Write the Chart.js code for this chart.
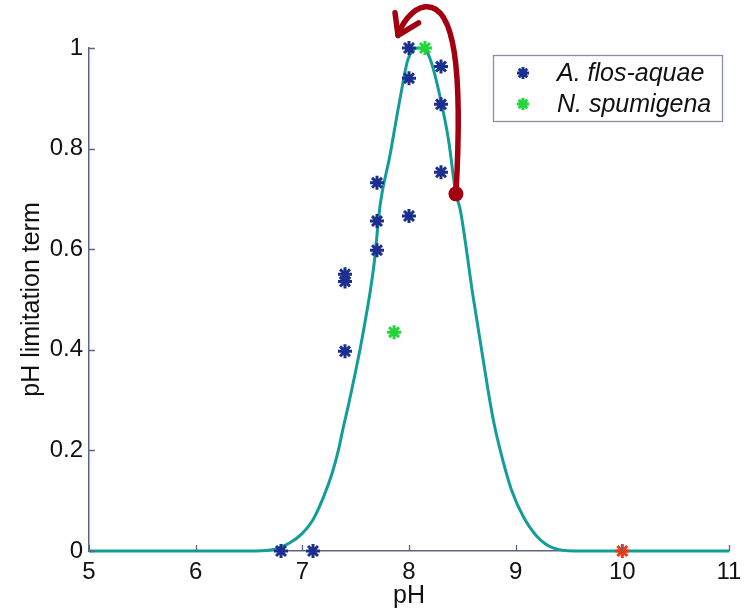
<!DOCTYPE html>
<html>
<head>
<meta charset="utf-8">
<script src="https://cdn.jsdelivr.net/npm/chart.js@4/dist/chart.umd.min.js"></script>
<style>
  html, body { margin: 0; padding: 0; background: #ffffff; }
  #wrap { width: 755px; height: 612px; position: relative; }
</style>
</head>
<body>
<div id="wrap"><canvas id="c" width="755" height="612"></canvas></div>
<script>
// ---- data ----
const curveX = [5, 6.0, 6.5, 6.7, 6.88, 7.0, 7.1, 7.2, 7.28, 7.34, 7.38, 7.43, 7.57, 7.67, 7.73, 7.82, 7.92, 7.99, 8.08, 8.15, 8.21, 8.29, 8.37, 8.44, 8.48, 8.6, 8.74, 8.79, 8.87, 8.96, 9.07, 9.2, 9.35, 9.55, 10, 11];
const curveY = [0, 0, 0, 0.002, 0.016, 0.035, 0.062, 0.108, 0.155, 0.202, 0.242, 0.288, 0.434, 0.566, 0.689, 0.785, 0.904, 0.977, 1.0, 0.997, 0.971, 0.904, 0.818, 0.71, 0.679, 0.507, 0.321, 0.261, 0.188, 0.122, 0.069, 0.029, 0.006, 0, 0, 0];

const aflosX = [8.0, 8.0, 8.3, 8.3, 8.3, 7.7, 7.7, 7.7, 8.0, 7.4, 7.4, 7.4, 6.8, 7.1];
const aflosY = [1.0, 0.94, 0.963, 0.888, 0.753, 0.732, 0.656, 0.598, 0.666, 0.550, 0.536, 0.397, 0, 0];

const nspumX = [8.15, 7.86];
const nspumY = [1.0, 0.435];

const redX = [10];
const redY = [0];

const xTicks = [5, 6, 7, 8, 9, 10, 11];
const yTicks = [0, 0.2, 0.4, 0.6, 0.8, 1];

const seriesNames = ['A. flos-aquae', 'N. spumigena'];

// annotation arrow (data units): start dot, two cubic segments, head arms
const arrowStart = [8.44, 0.71];
const arrowSeg1 = [[8.505, 0.957], [8.431, 1.088], [8.15, 1.082]];
const arrowSeg2 = [[8.028, 1.078], [7.934, 1.049], [7.897, 1.025]];
const arrowHead = [[7.869, 1.070], [8.090, 1.050]];

// ---- build ----
const zip = (xs, ys) => xs.map((x, i) => ({ x: x, y: ys[i] }));

const AXIS = '#5e6486';
const FONT = "'Liberation Sans', Arial, Helvetica, sans-serif";

const innerTicks = {
  id: 'innerTicks',
  afterDraw(chart) {
    const { ctx, scales: { x, y } } = chart;
    ctx.save();
    ctx.strokeStyle = AXIS;
    ctx.lineWidth = 1.3;
    ctx.beginPath();
    xTicks.forEach(v => {
      const px = Math.round(x.getPixelForValue(v)) + 0.5;
      ctx.moveTo(px, y.bottom);
      ctx.lineTo(px, y.bottom - 6);
    });
    yTicks.forEach(v => {
      const py = Math.round(y.getPixelForValue(v)) + 0.5;
      ctx.moveTo(x.left, py);
      ctx.lineTo(x.left + 6, py);
    });
    ctx.stroke();
    ctx.restore();
  }
};

const arrowPlugin = {
  id: 'arrow',
  afterDatasetsDraw(chart) {
    const { ctx, scales: { x, y } } = chart;
    const P = p => [x.getPixelForValue(p[0]), y.getPixelForValue(p[1])];
    const s = P(arrowStart);
    const a = arrowSeg1.map(P), b = arrowSeg2.map(P), h = arrowHead.map(P);
    ctx.save();
    ctx.strokeStyle = '#a3000f';
    ctx.fillStyle = '#a3000f';
    ctx.lineWidth = 5.5;
    ctx.lineCap = 'round';
    ctx.lineJoin = 'round';
    ctx.beginPath();
    ctx.moveTo(s[0], s[1]);
    ctx.bezierCurveTo(a[0][0], a[0][1], a[1][0], a[1][1], a[2][0], a[2][1]);
    ctx.bezierCurveTo(b[0][0], b[0][1], b[1][0], b[1][1], b[2][0], b[2][1]);
    ctx.stroke();
    ctx.beginPath();
    ctx.moveTo(h[0][0], h[0][1]);
    ctx.lineTo(b[2][0], b[2][1]);
    ctx.lineTo(h[1][0], h[1][1]);
    ctx.stroke();
    ctx.beginPath();
    ctx.arc(s[0], s[1], 7.5, 0, Math.PI * 2);
    ctx.fill();
    ctx.restore();
  }
};

const drawStar = (ctx, cx, cy, r, color, lw) => {
  ctx.strokeStyle = color;
  ctx.lineWidth = lw;
  ctx.lineCap = 'butt';
  ctx.beginPath();
  for (let k = 0; k < 4; k++) {
    const ang = k * Math.PI / 4;
    ctx.moveTo(cx - r * Math.cos(ang), cy - r * Math.sin(ang));
    ctx.lineTo(cx + r * Math.cos(ang), cy + r * Math.sin(ang));
  }
  ctx.stroke();
};

const boxLegend = {
  id: 'boxLegend',
  afterDraw(chart) {
    const { ctx } = chart;
    const items = chart.data.datasets.filter(d => d.inLegend);
    const left = 493, top = 55, w = 229, rowH = 31;
    const h = 66;
    ctx.save();
    ctx.fillStyle = '#ffffff';
    ctx.fillRect(left, top, w, h);
    ctx.strokeStyle = '#8a8ea6';
    ctx.lineWidth = 1.3;
    ctx.strokeRect(left + 0.5, top + 0.5, w, h);
    items.forEach((d, i) => {
      const cy = top + 18 + i * rowH;
      drawStar(ctx, left + 30, cy, 6, d.borderColor, 3);
      ctx.fillStyle = '#111111';
      ctx.font = 'italic 25px ' + FONT;
      ctx.textBaseline = 'middle';
      ctx.textAlign = 'left';
      ctx.fillText(d.label, left + 64, cy + 1);
    });
    ctx.restore();
  }
};

const whiteBg = {
  id: 'whiteBg',
  beforeDraw(chart) {
    const { ctx, width, height } = chart;
    ctx.save();
    ctx.fillStyle = '#ffffff';
    ctx.fillRect(0, 0, width, height);
    ctx.restore();
  }
};

const starDs = (label, xs, ys, color, inLegend) => ({
  type: 'scatter',
  label: label,
  data: zip(xs, ys),
  showLine: false,
  pointStyle: 'star',
  pointRadius: 7,
  pointHoverRadius: 7,
  pointBorderWidth: 3,
  borderColor: color,
  backgroundColor: color,
  pointBorderColor: color,
  clip: false,
  inLegend: inLegend,
  order: 1
});

new Chart(document.getElementById('c'), {
  type: 'scatter',
  data: {
    datasets: [
      starDs(seriesNames[0], aflosX, aflosY, '#1b2f8f', true),
      starDs(seriesNames[1], nspumX, nspumY, '#22d63a', true),
      starDs('', redX, redY, '#ee3a12', false),
      {
        type: 'line',
        label: 'curve',
        data: zip(curveX, curveY),
        borderColor: '#139d98',
        borderWidth: 3,
        pointRadius: 0,
        fill: false,
        cubicInterpolationMode: 'monotone',
        clip: false,
        order: 2
      }
    ]
  },
  options: {
    responsive: false,
    animation: false,
    devicePixelRatio: 1,
    layout: { padding: { top: 48, right: 26, bottom: 0, left: 0 } },
    plugins: {
      legend: { display: false },
      tooltip: { enabled: false }
    },
    scales: {
      x: {
        type: 'linear',
        min: 5, max: 11,
        afterBuildTicks(scale) { scale.ticks = xTicks.map(v => ({ value: v })); },
        afterFit(scale) { scale.height = 61; },
        grid: { display: false, drawTicks: false },
        border: { display: true, color: AXIS, width: 1.5 },
        ticks: { color: '#111111', font: { family: FONT, size: 24 }, padding: 7, maxRotation: 0 },
        title: { display: true, text: 'pH', color: '#111111', font: { family: FONT, size: 25 }, padding: { top: 0, bottom: 1 } }
      },
      y: {
        type: 'linear',
        min: 0, max: 1,
        afterBuildTicks(scale) { scale.ticks = yTicks.map(v => ({ value: v })); },
        afterFit(scale) { scale.width = 89; },
        grid: { display: false, drawTicks: false },
        border: { display: true, color: AXIS, width: 1.5 },
        ticks: { color: '#111111', font: { family: FONT, size: 24 }, padding: 6,
                 callback: v => String(Math.round(v * 10) / 10) },
        title: { display: true, text: 'pH limitation term', color: '#111111', font: { family: FONT, size: 25 }, padding: { top: 17.5, bottom: 0 } }
      }
    }
  },
  plugins: [whiteBg, innerTicks, arrowPlugin, boxLegend]
});
</script>
</body>
</html>
